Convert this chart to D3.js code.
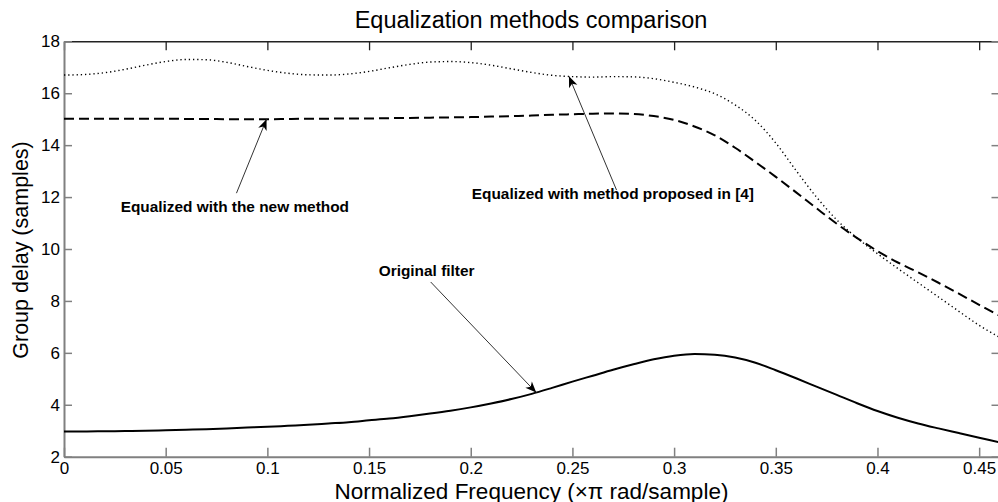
<!DOCTYPE html>
<html><head><meta charset="utf-8">
<script src="https://cdn.jsdelivr.net/npm/d3@7"></script>
<style>
body{margin:0;background:#fff;}
svg{display:block;}
text{font-family:"Liberation Sans",Arial,Helvetica,sans-serif;}
</style>
</head><body>
<svg id="chart" width="998" height="502"></svg>
<script>
// ---------- data ----------
const freq = [0.00,0.01,0.02,0.03,0.04,0.05,0.06,0.07,0.08,0.09,
              0.10,0.11,0.12,0.13,0.14,0.15,0.16,0.17,0.18,0.19,
              0.20,0.21,0.22,0.23,0.24,0.25,0.26,0.27,0.28,0.29,
              0.30,0.31,0.32,0.33,0.34,0.35,0.36,0.37,0.38,0.39,
              0.40,0.41,0.42,0.43,0.44,0.45,0.46];

const originalFilter = [2.97,2.97,2.98,2.99,3.00,3.02,3.04,3.06,3.09,3.12,
                        3.15,3.19,3.23,3.28,3.33,3.40,3.47,3.56,3.66,3.77,
                        3.90,4.05,4.22,4.42,4.65,4.89,5.12,5.35,5.56,5.75,
                        5.89,5.96,5.93,5.82,5.62,5.33,5.02,4.70,4.38,4.06,
                        3.76,3.50,3.28,3.09,2.91,2.73,2.55];

const newMethod = [15.02,15.02,15.02,15.02,15.02,15.02,15.01,15.01,15.00,15.00,
                   15.00,15.01,15.02,15.02,15.03,15.03,15.04,15.05,15.06,15.07,
                   15.08,15.10,15.12,15.14,15.17,15.19,15.21,15.22,15.20,15.12,
                   14.97,14.72,14.38,13.90,13.35,12.78,12.18,11.57,10.97,10.42,
                   9.92,9.48,9.10,8.70,8.28,7.85,7.43];

const method4 = [16.70,16.72,16.79,16.92,17.08,17.22,17.30,17.29,17.19,17.03,
                 16.88,16.77,16.71,16.70,16.74,16.84,16.98,17.11,17.20,17.22,
                 17.18,17.08,16.94,16.80,16.69,16.64,16.62,16.64,16.63,16.56,
                 16.42,16.24,15.98,15.55,14.95,14.08,13.02,12.00,11.12,10.42,
                 9.82,9.25,8.70,8.15,7.60,7.06,6.60];

const xTicks = [0,0.05,0.1,0.15,0.2,0.25,0.3,0.35,0.4,0.45];
const xTickLabels = ["0","0.05","0.1","0.15","0.2","0.25","0.3","0.35","0.4","0.45"];
const yTicks = [2,4,6,8,10,12,14,16,18];

const titleText = "Equalization methods comparison";
const xLabelText = "Normalized Frequency (\u00D7\u03C0 rad/sample)";
const yLabelText = "Group delay (samples)";

// annotations: label, text centre (f, v), arrow tail (f, v), arrow tip (f, v)
const annLabels = ["Equalized with the new method","Equalized with method proposed in [4]","Original filter"];
const annTextPos = [[0.0840,11.44],[0.2699,11.92],[0.1783,8.96]];
const annTail = [[0.0848,12.15],[0.2717,12.27],[0.1803,8.73]];
const annTip = [[0.0996,15.00],[0.2483,16.65],[0.2322,4.47]];

// ---------- layout ----------
const svg = d3.select("#chart");
const L = 64, R = 999.5, T = 41.3, B = 456.7;
const x = d3.scaleLinear().domain([0,0.46]).range([L,R]);
const y = d3.scaleLinear().domain([2,18]).range([B,T]);
const gray = "#808080";

// axes
const gB = svg.append("g").attr("transform",`translate(0,${B})`)
  .call(d3.axisBottom(x).tickValues(xTicks).tickFormat((d,i)=>xTickLabels[i])
        .tickSize(-9).tickSizeOuter(0).tickPadding(5.2));
gB.select(".domain").attr("stroke",gray).attr("stroke-width",2);
gB.selectAll(".tick line").attr("stroke",gray).attr("stroke-width",1.5);
gB.selectAll(".tick text").attr("font-size","17px").attr("fill","#000")
  .style("font-family",'"Liberation Sans",Arial,sans-serif');

const gT = svg.append("g").attr("transform",`translate(0,${T})`)
  .call(d3.axisTop(x).tickValues(xTicks).tickFormat("").tickSize(-9).tickSizeOuter(0));
gT.select(".domain").attr("stroke","#222").attr("stroke-width",1.5);
gT.selectAll(".tick line").attr("stroke","#222").attr("stroke-width",1.3);

const gL = svg.append("g").attr("transform",`translate(${L},0)`)
  .call(d3.axisLeft(y).tickValues(yTicks).tickFormat(d3.format("d"))
        .tickSize(-8).tickSizeOuter(0).tickPadding(4));
gL.select(".domain").attr("stroke",gray).attr("stroke-width",2);
gL.selectAll(".tick line").attr("stroke",gray).attr("stroke-width",1.5);
gL.selectAll(".tick text").attr("font-size","17px").attr("fill","#000")
  .style("font-family",'"Liberation Sans",Arial,sans-serif');

const gR = svg.append("g").attr("transform",`translate(${R},0)`)
  .call(d3.axisRight(y).tickValues(yTicks).tickFormat("").tickSize(-8).tickSizeOuter(0));
gR.select(".domain").attr("stroke",gray).attr("stroke-width",2);
gR.selectAll(".tick line").attr("stroke",gray).attr("stroke-width",1.5);

// ---------- lines ----------
const line = d3.line().x(d=>x(d[0])).y(d=>y(d[1])).curve(d3.curveMonotoneX);
const clipId = "plotclip";
svg.append("clipPath").attr("id",clipId).append("rect")
  .attr("x",L).attr("y",T).attr("width",R-L).attr("height",B-T);
const plot = svg.append("g").attr("clip-path",`url(#${clipId})`);

plot.append("path").datum(freq.map((f,i)=>[f,method4[i]]))
  .attr("d",line).attr("fill","none").attr("stroke","#000")
  .attr("stroke-width",1.4).attr("stroke-dasharray","1.3,2.9");
plot.append("path").datum(freq.map((f,i)=>[f,newMethod[i]]))
  .attr("d",line).attr("fill","none").attr("stroke","#000")
  .attr("stroke-width",2).attr("stroke-dasharray","10,5");
plot.append("path").datum(freq.map((f,i)=>[f,originalFilter[i]]))
  .attr("d",line).attr("fill","none").attr("stroke","#000")
  .attr("stroke-width",2);

// ---------- annotations ----------
annLabels.forEach((lab,i)=>{
  const x0 = x(annTail[i][0]), y0 = y(annTail[i][1]);
  const x1 = x(annTip[i][0]), y1 = y(annTip[i][1]);
  const ang = Math.atan2(y1-y0, x1-x0)*180/Math.PI;
  svg.append("line").attr("x1",x0).attr("y1",y0).attr("x2",x1).attr("y2",y1)
    .attr("stroke","#333").attr("stroke-width",1);
  svg.append("path").attr("d","M0,0 L-11,-4.5 L-8,0 L-11,4.5 Z")
    .attr("fill","#000")
    .attr("transform",`translate(${x1},${y1}) rotate(${ang})`);
  svg.append("text").attr("x",x(annTextPos[i][0])).attr("y",y(annTextPos[i][1]))
    .attr("text-anchor","middle").attr("font-size","15.4px").attr("font-weight","bold")
    .attr("fill","#000").text(lab);
});

// ---------- titles ----------
svg.append("text").attr("x",531).attr("y",28).attr("text-anchor","middle")
  .attr("font-size","23.5px").attr("fill","#000").text(titleText);
svg.append("text").attr("x",531.5).attr("y",498.5).attr("text-anchor","middle")
  .attr("font-size","22.5px").attr("fill","#000").text(xLabelText);
svg.append("text").attr("transform","translate(28,250) rotate(-90)")
  .attr("text-anchor","middle").attr("font-size","21.5px").attr("fill","#000").text(yLabelText);
</script>
</body></html>
